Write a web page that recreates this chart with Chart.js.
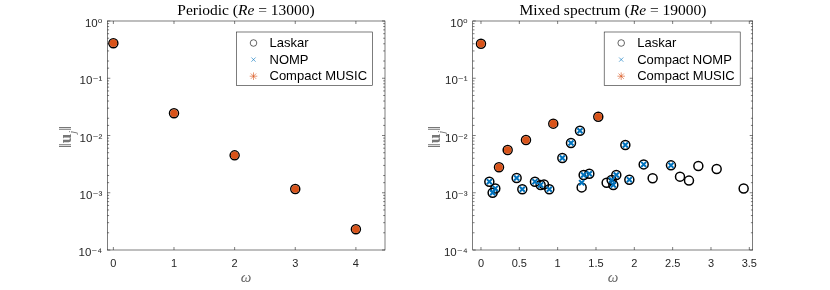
<!DOCTYPE html>
<html>
<head>
<meta charset="utf-8">
<script src="https://cdn.jsdelivr.net/npm/chart.js@4/dist/chart.umd.min.js"></script>
<style>
  body { margin: 0; background: #fff; }
  #wrap { position: relative; width: 830px; height: 290px; overflow: hidden; }
  canvas { position: absolute; top: 0; }
  .title { position: absolute; top: 1px; transform: translateX(-50%); white-space: nowrap;
           font-family: "Liberation Serif", "DejaVu Serif", serif; font-size: 15.5px; color: #000; }
  .xlab { position: absolute; top: 269px; transform: translateX(-50%);
          font-family: "Liberation Serif", serif; font-style: italic; font-size: 15px; color: #666; }
  .ylab { position: absolute; transform: translate(-50%, -50%) rotate(-90deg); white-space: nowrap;
          font-family: "Liberation Serif", serif; font-size: 17px; color: #777; }
  .ylab sub { font-size: 11px; }
</style>
</head>
<body>
<div id="wrap">
  <canvas id="periodic" width="415" height="290" style="left:0"></canvas>
  <canvas id="mixed" width="415" height="290" style="left:415px"></canvas>
  <div class="title" style="left:246px">Periodic (<i>Re</i> = 13000)</div>
  <div class="title" style="left:613px">Mixed spectrum (<i>Re</i> = 19000)</div>
  <div class="xlab" style="left:246px">ω</div>
  <div class="xlab" style="left:613px">ω</div>
  <div class="ylab" style="left:67px;top:137px">‖<b>u</b><sub><i>j</i></sub>‖</div>
  <div class="ylab" style="left:436px;top:137px">‖<b>u</b><sub><i>j</i></sub>‖</div>
</div>
<script>
// ---- data ----
const periodicOmega = [0, 1, 2, 3, 4];
const periodicLaskar = [0.41, 0.0244, 0.0045, 0.00116, 0.00023];
const periodicNomp = [0.41, 0.0244, 0.0045, 0.00116, 0.00023];
const periodicMusic = [0.41, 0.0244, 0.0045, 0.00116, 0.00023];

const mixedLaskarOmega = [0.000, 0.109, 0.152, 0.187, 0.235, 0.348, 0.465, 0.539, 0.587, 0.704,
  0.778, 0.822, 0.891, 0.943, 1.061, 1.174, 1.291, 1.313, 1.339, 1.413, 1.530, 1.639, 1.704,
  1.726, 1.765, 1.883, 1.935, 2.122, 2.239, 2.478, 2.596, 2.713, 2.835, 3.074, 3.426];
const mixedLaskar = [0.40, 0.00156, 0.00100, 0.00119, 0.00278, 0.00558, 0.00181, 0.00115, 0.00834, 0.00156,
  0.00137, 0.00140, 0.00115, 0.0161, 0.00405, 0.00740, 0.0121, 0.00124, 0.00204, 0.00215, 0.0213, 0.00150, 0.00167,
  0.00137, 0.00204, 0.00682, 0.00169, 0.00313, 0.00179, 0.00301, 0.00191, 0.00163, 0.00293, 0.00260, 0.00119];

const mixedNompOmega = [0.109, 0.152, 0.187, 0.465, 0.539, 0.704, 0.778, 0.891, 1.061, 1.174, 1.291,
  1.313, 1.339, 1.413, 1.704, 1.726, 1.765, 1.883, 1.935, 2.122, 2.478];
const mixedNomp = [0.00156, 0.00100, 0.00119, 0.00181, 0.00115, 0.00156, 0.00137, 0.00115, 0.00405, 0.00740, 0.0121,
  0.00150, 0.00204, 0.00215, 0.00167, 0.00137, 0.00204, 0.00682, 0.00169, 0.00313, 0.00301];

const mixedMusicOmega = [0.000, 0.235, 0.348, 0.587, 0.943, 1.530];
const mixedMusic = [0.40, 0.00278, 0.00558, 0.00834, 0.0161, 0.0213];

const periodicXTicks = [0, 1, 2, 3, 4];
const mixedXTicks = [0, 0.5, 1, 1.5, 2, 2.5, 3, 3.5];

const BLUE = "#0072BD";
const ORANGE = "#D95319";
const AXIS = "#262626";

const SUP = { "0": "⁰", "1": "¹", "2": "²", "3": "³", "4": "⁴", "-": "⁻" };

function isDecade(v) {
    const e = Math.log10(v);
    return Math.abs(e - Math.round(e)) < 1e-9;
}

function pts(xs, ys) {
    return xs.map((x, i) => ({ x: x, y: ys[i] }));
}

// box with inward ticks on all four sides, like a matlab axes
const frame = {
    id: "frame",
    beforeDatasetsDraw(chart) {
        const { ctx, chartArea: a, scales } = chart;
        const line = (x1, y1, x2, y2) => { ctx.beginPath(); ctx.moveTo(x1, y1); ctx.lineTo(x2, y2); ctx.stroke(); };
        ctx.save();
        ctx.strokeStyle = AXIS;
        ctx.lineWidth = 0.6;
        ctx.strokeRect(a.left, a.top, a.right - a.left, a.bottom - a.top);
        scales.x.ticks.forEach(t => {
            const px = scales.x.getPixelForValue(t.value);
            line(px, a.bottom, px, a.bottom - 3);
            line(px, a.top, px, a.top + 3);
        });
        scales.y.ticks.forEach(t => {
            const py = scales.y.getPixelForValue(t.value);
            const len = isDecade(t.value) ? 3 : 1.8;
            line(a.left, py, a.left + len, py);
            line(a.right, py, a.right - len, py);
        });
        ctx.restore();
    }
};

// boxed legend in the upper right corner of the axes
const boxLegend = {
    id: "boxLegend",
    afterDatasetsDraw(chart) {
        const { ctx, chartArea: a } = chart;
        const w = 136, h = 53.5;
        const left = a.right - 12.5 - w, top = a.top + 11;
        ctx.save();
        ctx.fillStyle = "#fff";
        ctx.fillRect(left, top, w, h);
        ctx.strokeStyle = AXIS;
        ctx.lineWidth = 0.6;
        ctx.strokeRect(left, top, w, h);
        ctx.font = "13px 'Liberation Sans', Arial, sans-serif";
        ctx.textBaseline = "middle";
        chart.data.datasets.forEach((ds, i) => {
            const y = top + 11 + i * 16.6;
            const st = ds.legendMarker;
            ctx.strokeStyle = st.color;
            ctx.fillStyle = st.fill;
            Chart.helpers.drawPoint(ctx, { pointStyle: st.style, radius: st.radius, borderWidth: st.width, rotation: 0 }, left + 17, y);
            ctx.fillStyle = "#000";
            ctx.fillText(ds.label, left + 33, y + 0.5);
        });
        ctx.restore();
    }
};

function makeDatasets(nompLabel, laskar, nomp, music) {
    return [
        {
            label: "Laskar",
            data: laskar,
            order: 2,
            pointStyle: "circle",
            pointRadius: 4.5,
            pointBorderWidth: 1.5,
            pointBorderColor: "#000",
            pointBackgroundColor: "rgba(0,0,0,0)",
            legendMarker: { style: "circle", radius: 3.3, width: 2, color: "#000", fill: "rgba(0,0,0,0)" }
        },
        {
            label: nompLabel,
            data: nomp,
            order: 1,
            pointStyle: "crossRot",
            pointRadius: 3.6,
            pointBorderWidth: 2,
            pointBorderColor: BLUE,
            legendMarker: { style: "crossRot", radius: 3, width: 1.8, color: BLUE, fill: BLUE }
        },
        {
            label: "Compact MUSIC",
            data: music,
            order: 0,
            pointStyle: "circle",
            pointRadius: 3.8,
            pointBorderWidth: 0,
            pointBackgroundColor: ORANGE,
            pointBorderColor: ORANGE,
            legendMarker: { style: "star", radius: 3.8, width: 1.8, color: ORANGE, fill: ORANGE }
        }
    ];
}

function makeChart(id, datasets, xMin, xMax, xTicks, yWidth, rightPad) {
    const tickFont = { family: "'Liberation Sans', 'DejaVu Sans', sans-serif", size: 11 };
    return new Chart(document.getElementById(id), {
        type: "scatter",
        data: { datasets: datasets },
        options: {
            responsive: false,
            animation: false,
            events: [],
            layout: { padding: { left: 0, top: 21, right: rightPad, bottom: 0 } },
            plugins: { legend: { display: false }, tooltip: { enabled: false } },
            scales: {
                x: {
                    type: "linear",
                    min: xMin,
                    max: xMax,
                    grid: { display: false, drawTicks: false },
                    border: { display: false },
                    afterBuildTicks: s => { s.ticks = xTicks.map(v => ({ value: v })); },
                    afterFit: s => { s.height = 40; },
                    ticks: {
                        autoSkip: false,
                        maxRotation: 0,
                        padding: 7,
                        color: AXIS,
                        font: tickFont,
                        callback: v => String(v)
                    }
                },
                y: {
                    type: "logarithmic",
                    min: 1e-4,
                    max: 1,
                    grid: { display: false, drawTicks: false },
                    border: { display: false },
                    afterFit: s => { s.width = yWidth; },
                    ticks: {
                        autoSkip: false,
                        padding: 5,
                        labelOffset: 3,
                        color: AXIS,
                        font: { family: "'Liberation Sans', 'DejaVu Sans', sans-serif", size: 11.5 },
                        callback: v => {
                            if (!isDecade(v)) return "";
                            const e = String(Math.round(Math.log10(v)));
                            return "10" + e.split("").map(c => SUP[c]).join("");
                        }
                    }
                }
            }
        },
        plugins: [frame, boxLegend]
    });
}

makeChart("periodic",
    makeDatasets("NOMP", pts(periodicOmega, periodicLaskar), pts(periodicOmega, periodicNomp), pts(periodicOmega, periodicMusic)),
    -0.1, 4.48, periodicXTicks, 107.3, 30);

makeChart("mixed",
    makeDatasets("Compact NOMP", pts(mixedLaskarOmega, mixedLaskar), pts(mixedNompOmega, mixedNomp), pts(mixedMusicOmega, mixedMusic)),
    -0.108, 3.544, mixedXTicks, 57.7, 77.3);
</script>
</body>
</html>
